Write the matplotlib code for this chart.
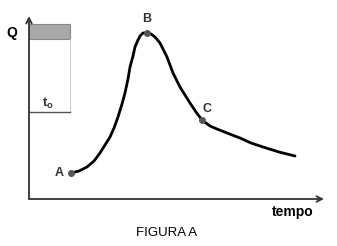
import matplotlib
matplotlib.use('Agg')
import matplotlib.pyplot as plt
import numpy as np

plt.rcParams['font.family'] = ['Liberation Sans', 'DejaVu Sans']

# curva Q(tempo), valori
tempo = [42, 50, 58, 65, 71, 76, 81, 85, 89, 93, 96, 99, 101, 104, 106, 109, 111, 114, 118,
         122, 126, 131, 138, 144, 151, 156, 161, 167, 173, 181, 188, 198, 211, 222, 234, 250, 266]
Q = [26, 28, 32, 38, 46, 54, 62, 71, 82, 95, 106, 120, 132, 143, 152, 159, 163, 166, 166,
     165, 162, 156, 142, 126, 112, 104, 96, 87, 79, 73, 70, 66, 61, 56, 52, 47, 43]

punti_nome = ['A', 'B', 'C']
punti_t = [42, 118, 173]
punti_q = [26, 166, 79]

t0 = 41           # larghezza del rettangolo t_o
q_base = 87       # livello della linea t_o
q_banda = [160, 175]  # banda grigia in alto

fig = plt.figure(figsize=(3.37, 2.46), dpi=100)
ax = fig.add_axes([29 / 337, 47 / 246, 295 / 337, 183 / 246])
ax.set_xlim(0, 295)
ax.set_ylim(0, 183)
ax.axis('off')

col = '#333333'

# assi con frecce
ax.annotate('', xy=(295, 0), xytext=(0, 0),
            arrowprops=dict(arrowstyle='->', color=col, lw=1.3, shrinkA=0, shrinkB=0))
ax.annotate('', xy=(0, 183), xytext=(0, 0),
            arrowprops=dict(arrowstyle='->', color=col, lw=1.3, shrinkA=0, shrinkB=0))

# rettangolo t_o
ax.fill_between([0, t0], q_banda[0], q_banda[1], color='#a8a8a8', edgecolor='#888888', lw=0.8)
ax.plot([t0, t0], [q_base, q_banda[0]], color='#cfcfcf', lw=0.8)
ax.plot([0, t0], [q_base, q_base], color='#555555', lw=1.0)
ax.text(19, q_base + 1, r't$_\mathregular{o}$', fontsize=9.5, fontweight='bold',
        color=col, ha='center', va='bottom')

# curva
ax.plot(tempo, Q, color='black', lw=2, solid_capstyle='round', solid_joinstyle='round')
ax.plot(punti_t, punti_q, 'o', color='#555555', ms=4)

ax.text(punti_t[0] - 12, punti_q[0], punti_nome[0], fontsize=9, fontweight='bold',
        color=col, ha='center', va='center')
ax.text(punti_t[1], punti_q[1] + 8, punti_nome[1], fontsize=9, fontweight='bold',
        color=col, ha='center', va='bottom')
ax.text(punti_t[2] + 5, punti_q[2] + 5, punti_nome[2], fontsize=9, fontweight='bold',
        color=col, ha='center', va='bottom')

fig.text(12 / 337, 1 - 33 / 246, 'Q', fontsize=10, fontweight='bold', color='black',
         ha='center', va='center')
fig.text(293 / 337, 1 - 212 / 246, 'tempo', fontsize=10, fontweight='bold', color='black',
         ha='center', va='center')
fig.text(167 / 337, 1 - 233 / 246, 'FIGURA A', fontsize=9.5, color='black',
         ha='center', va='center')

fig.savefig('out.png', dpi=100, facecolor='white')
